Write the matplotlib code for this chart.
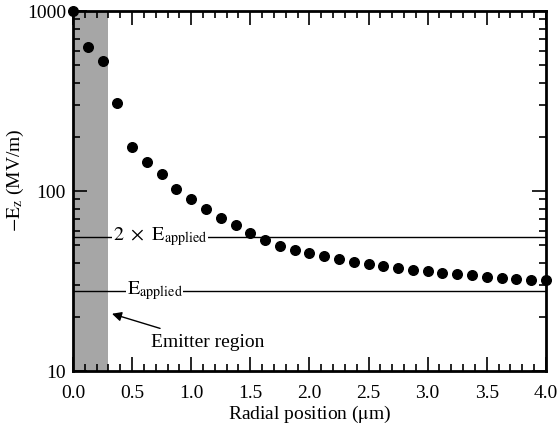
import numpy as np
import matplotlib
matplotlib.use('Agg')
import matplotlib.pyplot as plt
from matplotlib.ticker import FixedLocator, NullFormatter

plt.rcParams['font.family'] = ['Liberation Serif', 'DejaVu Serif']
plt.rcParams['mathtext.fontset'] = 'stix'

#---- Field values
radius = [0.0, 0.125, 0.25, 0.375, 0.5, 0.625, 0.75, 0.875, 1.0, 1.125, 1.25,
          1.375, 1.5, 1.625, 1.75, 1.875, 2.0, 2.125, 2.25, 2.375, 2.5, 2.625,
          2.75, 2.875, 3.0, 3.125, 3.25, 3.375, 3.5, 3.625, 3.75, 3.875, 4.0]
field = [1000, 634, 526, 307, 177, 146, 124, 103.5, 90.3, 80.2, 71.5,
         64.7, 58.4, 53.6, 49.8, 47.2, 45.3, 43.7, 41.9, 40.7, 39.5, 38.3,
         37.3, 36.7, 36.1, 35.3, 34.9, 34.3, 33.6, 33.2, 32.7, 32.3, 32.0]
E_applied = 28
emitter_edge = 0.3

fig = plt.figure(figsize=(5.57, 4.25), dpi=100)
ax = fig.add_axes([0.131, 0.126, 0.849, 0.848])

ax.axvspan(0, emitter_edge, facecolor='#a6a6a6', edgecolor='none', zorder=1)
ax.axhline(2 * E_applied, color='black', lw=1.0, zorder=2)
ax.axhline(E_applied, color='black', lw=1.0, zorder=2)
ax.scatter(radius, field, s=48, color='black', zorder=4, clip_on=False)

ax.text(0.335, 2 * E_applied, r'$2\ \times\ \mathrm{E}_{\mathrm{applied}}$', fontsize=14.5,
        va='center', ha='left', zorder=3,
        bbox=dict(facecolor='white', edgecolor='none', pad=0.5))
ax.text(0.455, E_applied, r'$\mathrm{E}_{\mathrm{applied}}$', fontsize=14.5,
        va='center', ha='left', zorder=3,
        bbox=dict(facecolor='white', edgecolor='none', pad=0.5))
ax.annotate('Emitter region', xy=(0.33, 20.9), xytext=(1.14, 14.4),
            fontsize=14, ha='center', va='center',
            arrowprops=dict(arrowstyle='-|>', color='black', lw=1.0,
                            shrinkA=8, shrinkB=0, mutation_scale=14))

ax.set_yscale('log')
ax.set_xlim(0, 4.0)
ax.set_ylim(10, 1000)
ax.set_xticks(np.arange(0, 4.01, 0.5))
ax.set_xticklabels(['0.0', '0.5', '1.0', '1.5', '2.0', '2.5', '3.0', '3.5', '4.0'])
ax.xaxis.set_minor_locator(FixedLocator(np.arange(0, 4.01, 0.1)))
ax.set_yticks([10, 100, 1000])
ax.set_yticklabels(['10', '100', '1000'])
ax.yaxis.set_minor_locator(FixedLocator([m * d for d in (10, 100) for m in range(2, 10)]))
ax.yaxis.set_minor_formatter(NullFormatter())

ax.tick_params(which='both', direction='in', top=True, right=True, labelsize=14, width=1.2)
ax.tick_params(which='major', length=10)
ax.tick_params(which='minor', length=5)
ax.tick_params(axis='x', pad=10)
ax.tick_params(axis='y', pad=5)
for s in ax.spines.values():
    s.set_linewidth(2)

ax.set_xlabel(r'Radial position ($\mathrm{\mu}$m)', fontsize=14, labelpad=1)
ax.set_ylabel(r'$-\mathrm{E}_{\mathrm{z}}$ (MV/m)', fontsize=14)
ax.yaxis.set_label_coords(-0.10, 0.53)

fig.savefig('out.png', dpi=100)
